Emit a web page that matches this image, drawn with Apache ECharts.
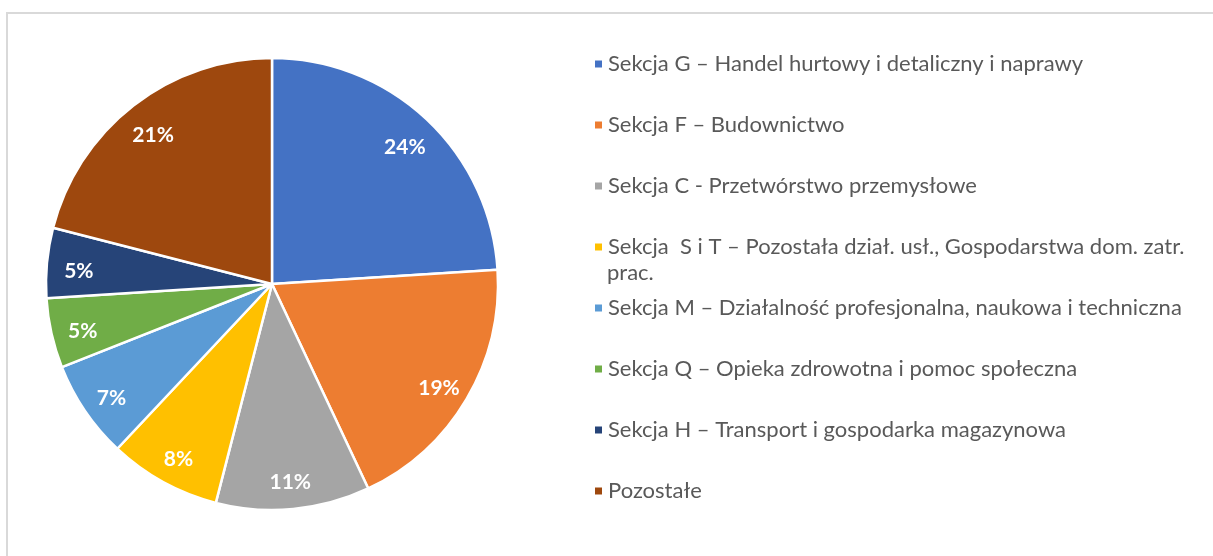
<!DOCTYPE html>
<html>
<head>
<meta charset="utf-8">
<script src="https://cdn.jsdelivr.net/npm/echarts@6/dist/echarts.min.js"></script>
<style>
  html, body { margin: 0; padding: 0; background: #fff; }
  #chart { width: 1213px; height: 556px; }
</style>
</head>
<body>
<div id="chart"></div>
<script>
const categories = [
  'Sekcja G – Handel hurtowy i detaliczny i naprawy',
  'Sekcja F – Budownictwo',
  'Sekcja C - Przetwórstwo przemysłowe',
  'Sekcja  S i T – Pozostała dział. usł., Gospodarstwa dom. zatr. prac.',
  'Sekcja M – Działalność profesjonalna, naukowa i techniczna',
  'Sekcja Q – Opieka zdrowotna i pomoc społeczna',
  'Sekcja H – Transport i gospodarka magazynowa',
  'Pozostałe'
];
const shares = [24, 19, 11, 8, 7, 5, 5, 21];
const colors = ['#4472C4', '#ED7D31', '#A5A5A5', '#FFC000', '#5B9BD5', '#70AD47', '#264478', '#9E480E'];

// the long S i T label wraps onto a second line in the original
const wrapIndex = 3;
const wrapTail = 'prac.';

const chart = echarts.init(document.getElementById('chart'));

const pieData = categories.map((name, i) => ({ name, value: shares[i] }));
const center = [272, 284];
const font = 'Lato';

const option = {
  animation: false,
  color: colors,
  graphic: [
    {
      type: 'rect',
      shape: { x: 7, y: 13, width: 1400, height: 800 },
      style: { fill: 'none', stroke: '#d9d9d9', lineWidth: 2 },
      silent: true
    },
    {
      type: 'text',
      left: 607,
      top: 262,
      style: { text: wrapTail, font: '22px ' + font, fill: '#595959' },
      silent: true
    }
  ],
  legend: {
    orient: 'vertical',
    left: 593,
    top: 51.5,
    padding: 0,
    itemWidth: 9,
    itemHeight: 9,
    itemGap: 36,
    icon: 'rect',
    data: categories,
    formatter: name => name === categories[wrapIndex]
      ? name.slice(0, name.length - wrapTail.length).trimEnd()
      : name,
    textStyle: {
      fontFamily: font,
      fontSize: 22,
      color: '#595959',
      lineHeight: 25
    }
  },
  series: [
    {
      type: 'pie',
      center: center,
      radius: [0, 226],
      startAngle: 90,
      clockwise: true,
      label: { show: false },
      labelLine: { show: false },
      itemStyle: { borderColor: '#fff', borderWidth: 2.5 },
      emphasis: { disabled: true },
      data: pieData
    },
    {
      // transparent ring used only to place the percentage labels
      type: 'pie',
      center: center,
      radius: [156, 226],
      startAngle: 90,
      clockwise: true,
      silent: true,
      itemStyle: { color: 'rgba(0,0,0,0)' },
      label: {
        show: true,
        position: 'inside',
        offset: [0, 5],
        formatter: p => p.value + '%',
        color: '#fff',
        fontFamily: font,
        fontWeight: 'bold',
        fontSize: 21
      },
      labelLine: { show: false },
      emphasis: { disabled: true },
      data: pieData
    }
  ]
};

chart.setOption(option);
</script>
</body>
</html>
